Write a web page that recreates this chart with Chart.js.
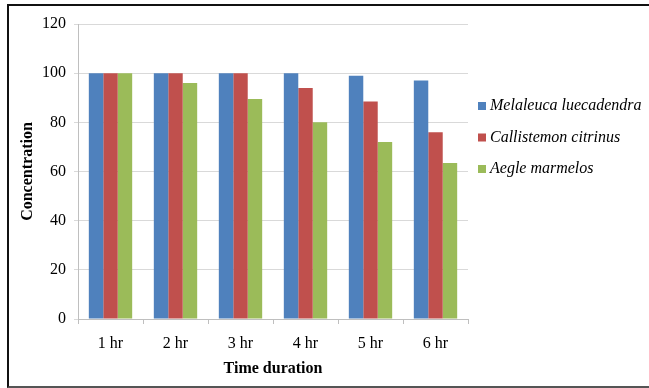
<!DOCTYPE html>
<html>
<head>
<meta charset="utf-8">
<script src="https://cdn.jsdelivr.net/npm/chart.js@4.4.1/dist/chart.umd.min.js"></script>
<style>
    html, body { margin: 0; padding: 0; background: #fff; overflow: hidden; }
    #wrap { position: relative; width: 649px; height: 388px; overflow: hidden; }
    #chart { position: absolute; left: 0; top: 0; }
    #frame {
        position: absolute; left: 7px; top: 4px; width: 1000px; height: 384px;
        box-sizing: border-box; border: 2px solid #111; border-bottom: 2px solid #555;
        border-right: none;
        pointer-events: none;
    }
</style>
</head>
<body>
<div id="wrap">
    <canvas id="chart" width="649" height="388"></canvas>
    <div id="frame"></div>
</div>
<script>
// dados
const hours = ['1 hr', '2 hr', '3 hr', '4 hr', '5 hr', '6 hr'];
const melaleuca = [100, 100, 100, 100, 99, 97];
const callistemon = [100, 100, 100, 94, 88.5, 76];
const aegle = [100, 96, 89.5, 80, 72, 63.5];
const seriesNames = ['Melaleuca luecadendra', 'Callistemon citrinus', 'Aegle marmelos'];
const seriesColors = ['#4F81BD', '#C0504D', '#9BBB59'];

const serif = "'Liberation Serif', 'Times New Roman', serif";

// legenda desenhada à mão, à direita do gráfico
const sideLegend = {
    id: 'sideLegend',
    afterDraw(chart) {
        const ctx = chart.ctx;
        ctx.save();
        ctx.font = 'italic 16px ' + serif;
        ctx.textBaseline = 'middle';
        chart.data.datasets.forEach((ds, i) => {
            const y = 106 + i * 31.5;
            ctx.fillStyle = ds.backgroundColor;
            ctx.fillRect(478, y - 4, 8, 8);
            ctx.fillStyle = '#000';
            ctx.fillText(ds.label, 490, y);
        });
        ctx.restore();
    }
};

new Chart(document.getElementById('chart'), {
    type: 'bar',
    data: {
        labels: hours,
        datasets: [melaleuca, callistemon, aegle].map((vals, i) => ({
            label: seriesNames[i],
            data: vals,
            backgroundColor: seriesColors[i],
            borderWidth: 0,
            categoryPercentage: 0.667,
            barPercentage: 1
        }))
    },
    options: {
        responsive: false,
        animation: false,
        layout: { padding: { left: 10, right: 181, top: 24, bottom: 9 } },
        plugins: { legend: { display: false }, tooltip: { enabled: false } },
        scales: {
            x: {
                grid: { drawOnChartArea: false, drawTicks: true, tickLength: 5, color: '#bfbfbf' },
                border: { color: '#bfbfbf' },
                ticks: { color: '#000', font: { family: serif, size: 16 }, padding: 10 },
                title: {
                    display: true, text: 'Time duration', color: '#000',
                    font: { family: serif, size: 16, weight: 'bold' },
                    padding: { top: 0, bottom: 1 }
                },
                afterFit(s) { s.height = 60; }
            },
            y: {
                min: 0, max: 120,
                grid: { color: '#d9d9d9', tickLength: 4 },
                border: { color: '#bfbfbf' },
                ticks: { stepSize: 20, color: '#000', font: { family: serif, size: 16 }, padding: 8 },
                title: {
                    display: true, text: 'Concentration', color: '#000',
                    font: { family: serif, size: 16, weight: 'bold' },
                    padding: { top: 8, bottom: 0 }
                },
                afterFit(s) { s.width = 68; }
            }
        }
    },
    plugins: [sideLegend]
});
</script>
</body>
</html>
